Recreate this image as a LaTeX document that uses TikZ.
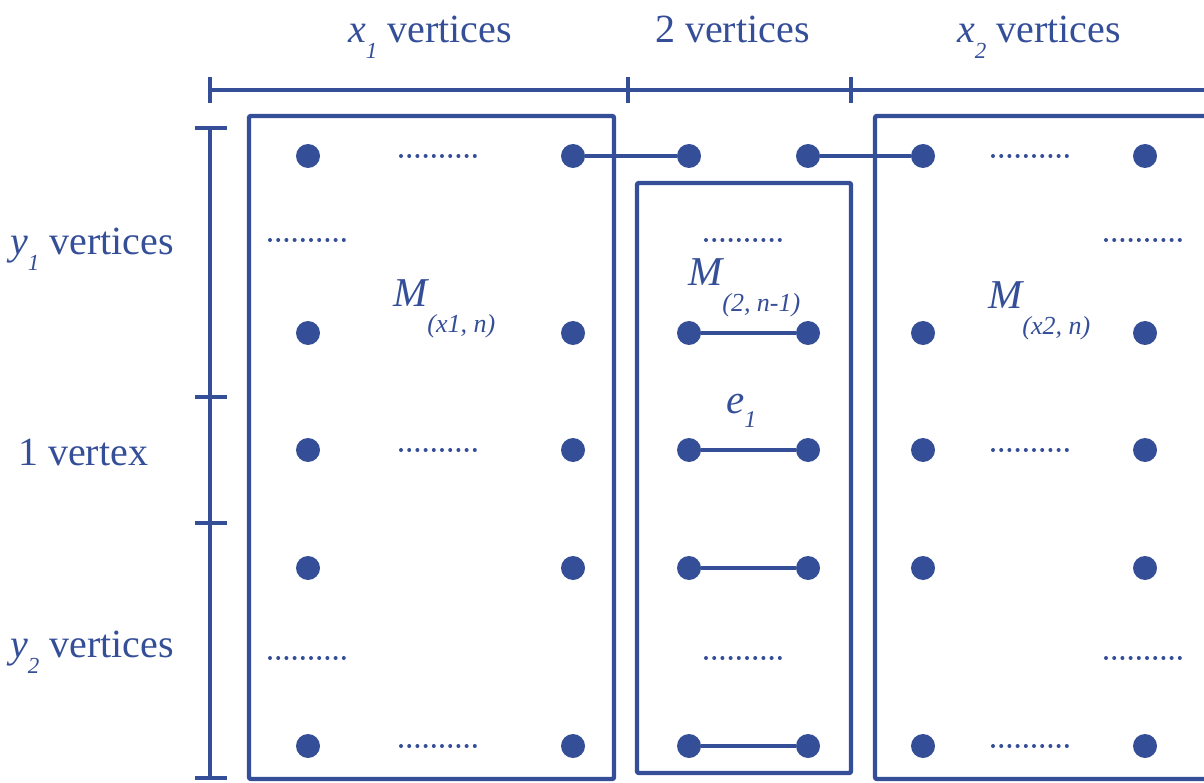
\documentclass[tikz,border=0pt]{standalone}
\usepackage{fontspec}
\setmainfont{Liberation Serif}
\definecolor{ink}{RGB}{52,78,152}
\newcommand{\sub}[1]{\raisebox{-0.4em}{\fontsize{23}{23}\selectfont\itshape #1}}
\newcommand{\blk}[2]{M\raisebox{-0.62em}{\fontsize{26}{26}\selectfont #1}}
\begin{document}
\begin{tikzpicture}[x=1pt,y=-1pt,
  every node/.style={text=ink},
  dot/.style={circle,fill=ink,inner sep=0pt,minimum size=24pt},
  edge/.style={draw=ink,line width=3.8pt},
  frame/.style={draw=ink,line width=4.4pt,rounded corners=2pt},
  brace/.style={draw=ink,line width=4.4pt},
  ellip/.style={draw=ink,line width=4pt,line cap=round,dash pattern=on 0pt off 8.2pt},
  lbl/.style={font=\fontsize{40}{40}\selectfont,inner sep=0pt,anchor=base west},
  mlbl/.style={font=\fontsize{41}{41}\selectfont\itshape,inner sep=0pt,anchor=base west}]
\useasboundingbox (0,0) rectangle (1204,783);
\clip (0,0) rectangle (1204,783);

% column measure along the top
\draw[brace] (210,90) -- (1220,90);
\foreach \x in {210,628,851} \draw[brace] (\x,77) -- (\x,103);
\node[lbl] (tx1) at (348,43) {\textit{x}\sub{1} vertices};
\node[lbl] (tx0) at (655,43) {2 vertices};
\node[lbl] (tx2) at (957,43) {\textit{x}\sub{2} vertices};

% row measure on the left
\draw[brace] (210,128) -- (210,778);
\foreach \y in {128,397,523,778} \draw[brace] (195,\y) -- (227,\y);
\node[lbl] (ly1) at (10,255) {\textit{y}\sub{1} vertices};
\node[lbl] (lv) at (18,465) {1 vertex};
\node[lbl] (ly2) at (10,657) {\textit{y}\sub{2} vertices};

% the three blocks
\draw[frame] (249,116) rectangle (614,779);
\draw[frame] (637,183) rectangle (851,773);
\draw[frame] (875,116) rectangle (1230,779);

% vertices
\foreach \r/\y in {1/156,2/333,3/450,4/568,5/746}{
  \node[dot] (La\r) at (308,\y) {};
  \node[dot] (Lb\r) at (573,\y) {};
  \node[dot] (Ma\r) at (689,\y) {};
  \node[dot] (Mb\r) at (808,\y) {};
  \node[dot] (Ra\r) at (923,\y) {};
  \node[dot] (Rb\r) at (1145,\y) {};
}

% edges
\draw[edge] (Lb1) -- (Ma1);
\draw[edge] (Mb1) -- (Ra1);
\foreach \r in {2,3,4,5} \draw[edge] (Ma\r) -- (Mb\r);

% omitted vertices
\foreach \y in {156,450,746}{
  \draw[ellip] (401,\y) -- (475,\y);
  \draw[ellip] (993,\y) -- (1067,\y);
}
\foreach \y in {240,658}{
  \draw[ellip] (270,\y) -- (344,\y);
  \draw[ellip] (706,\y) -- (780,\y);
  \draw[ellip] (1106,\y) -- (1180,\y);
}

% block labels
\node[mlbl] (m1) at (393,307) {\blk{(x1, n)}{}};
\node[mlbl] (m0) at (688,286) {\blk{(2, n-1)}{}};
\node[mlbl] (m2) at (988,309) {\blk{(x2, n)}{}};
\node[mlbl] (e1) at (726,413) {e\raisebox{-0.36em}{\fontsize{24}{24}\selectfont 1}};
\end{tikzpicture}
\end{document}
